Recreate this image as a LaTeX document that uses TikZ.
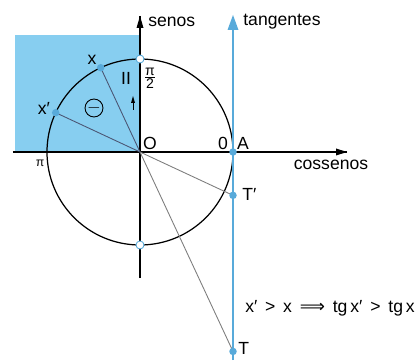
\documentclass[tikz,border=0pt]{standalone}
\usepackage{amsmath}
\usepackage{fontspec}
\setmainfont{Liberation Sans}
\newfontfamily\simbolo{DejaVu Sans}
\definecolor{ceu}{RGB}{135,206,240}
\definecolor{azul}{RGB}{88,170,218}
\definecolor{raio}{RGB}{75,85,115}
\definecolor{cinza}{RGB}{125,125,125}

\begin{document}
\begin{tikzpicture}[scale=0.2]
				\tikzstyle{every node}+=[inner sep=0pt]
				\tikzstyle{ponto}=[circle,fill=azul,minimum size=1.5mm]
				\tikzstyle{vazio}=[circle,draw=azul,fill=white,line width=0.5pt,minimum size=1.6mm]
				\useasboundingbox (-14,-20.8) rectangle (27.5,15.2);
				\fill [ceu] (-12.5,0) rectangle (0,11.7);
				\coordinate (O) at (0,0);
				\coordinate (x) at (115:9.3);
				\coordinate (xl) at (155:9.3);
				\coordinate (A) at (9.3,0);
				\coordinate (T) at (9.3,{9.3*tan(115)});
				\coordinate (Tl) at (9.3,{9.3*tan(155)});
				\coordinate (cos) at (20.7,0);
				\coordinate (sen) at (0,13.6);
				\coordinate (tg) at (9.3,13.7);
				% eixos
				\draw [black,line width=0.6pt] (-12.7,0) -- (cos);
				\fill [black] (cos) -- (19.6,0.35) -- (19.6,-0.35);
				\draw [black,line width=0.6pt] (0,-12.6) -- (sen);
				\fill [black] (sen) -- (-0.35,12.4) -- (0.35,12.4);
				\draw [black,line width=0.7pt] (O) circle (9.3);
				\draw [raio,line width=0.5pt] (x) -- (O);
				\draw [raio,line width=0.5pt] (xl) -- (O);
				\draw [cinza,line width=0.5pt] (O) -- (T);
				\draw [cinza,line width=0.5pt] (O) -- (Tl);
				\draw [azul,line width=1.7pt] (9.3,-20.8) -- (9.3,12.6);
				\fill [azul] (tg) -- (8.75,12.2) -- (9.85,12.2);
				% pontos
				\node (px) [ponto] at (x) {};
				\node (pxl) [ponto] at (xl) {};
				\node (pA) [ponto] at (A) {};
				\node (pT) [ponto] at (T) {};
				\node (pTl) [ponto] at (Tl) {};
				\node (topo) [vazio] at (0,9.3) {};
				\node (baixo) [vazio] at (0,-9.3) {};
				% textos
				\node (lsen) [anchor=west] at (0.8,13.0) {senos};
				\node (ltg) [anchor=west] at (10.3,13.0) {tangentes};
				\node (lcos) at (19.1,-1.3) {cossenos};
				\node (lx) at (-4.8,9.2) {x};
				\node (lxl) at (-9.6,4.4) {x′};
				\node (lO) at (1.0,0.9) {O};
				\node (lzero) at (8.3,0.9) {0};
				\node (lA) at (10.3,0.9) {A};
				\node (lpi2) at (1.0,7.4) {$\frac{\mbox{\footnotesize π}}{\mbox{\footnotesize 2}}$};
				\node (lpi) at (-10.0,-1.1) {\scriptsize π};
				\node (lII) at (-1.4,7.4) {II};
				\draw [black,line width=0.4pt] (-0.7,4.2) -- (-0.7,5.0);
				\fill [black] (-0.7,5.6) -- (-0.9,4.9) -- (-0.5,4.9);
				\node (menos) [circle,draw,line width=0.5pt,minimum size=2.7mm] at (-4.6,4.4) {$-$};
				\node (lTl) [anchor=west] at (10.2,-4.2) {T′};
				\node (lT) [anchor=west] at (9.8,-19.6) {T};
				\node (rel) at (19.0,-15.6) {x′ \,>\, x \,{\simbolo ⟹}\, tg\,x′ \,>\, tg\,x};
			\end{tikzpicture}
\end{document}
